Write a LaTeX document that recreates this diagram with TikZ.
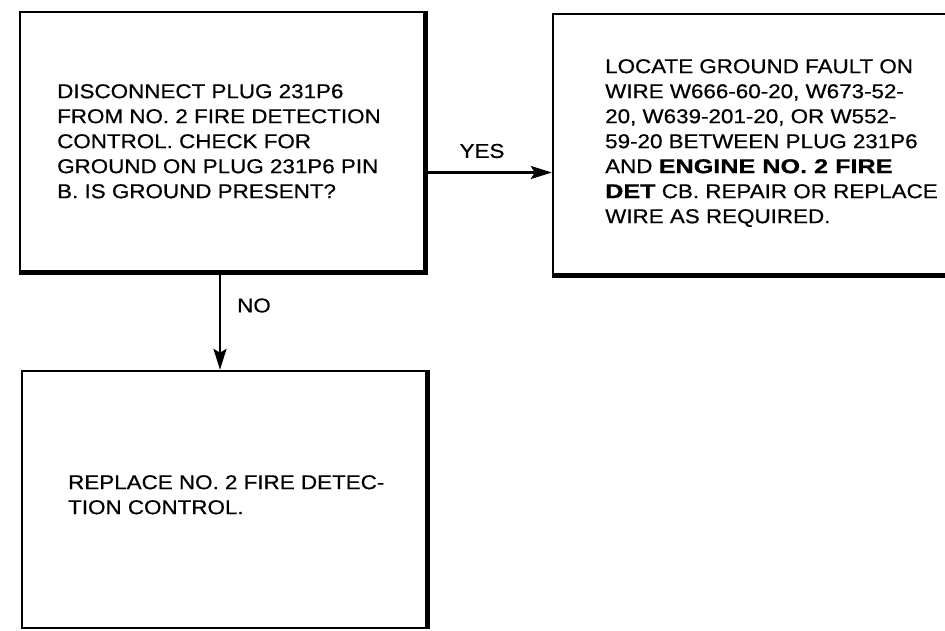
\documentclass[tikz,border=0pt]{standalone}
\usepackage{fontspec}
\setmainfont{Liberation Sans}[FakeStretch=1.12,FakeBold=0.6]
\newfontfamily\heavyfont{Liberation Sans Bold}[FakeStretch=1.26,FakeBold=0.8]
\usetikzlibrary{arrows.meta}
\begin{document}
\begin{tikzpicture}[x=1pt,y=-1pt,
  box/.style={draw, line width=2.4pt, inner sep=0pt},
  heavyedge/.style={line width=5.5pt, line cap=butt, line join=miter},
  txt/.style={anchor=north west, inner sep=0pt, align=left, font=\fontsize{20}{25}\selectfont},
  lbl/.style={inner sep=0pt, font=\fontsize{20}{25}\selectfont},
  arr/.style={line width=2.6pt, -{Stealth[length=21pt,width=13pt,inset=4pt]}}
]
\useasboundingbox (0,0) rectangle (945,631);
\clip (0,0) rectangle (945,631);
% boxes
\node[box, minimum width=406pt, minimum height=261pt] (b1) at (223,142.5) {};
\node[box, minimum width=407pt, minimum height=262pt] (b2) at (756.5,145) {};
\node[box, minimum width=406pt, minimum height=257pt] (b3) at (225,499.5) {};
% heavy right/bottom edges
\draw[heavyedge] ([xshift=-1.5pt]b1.north east) -- ([xshift=-1.5pt,yshift=1.5pt]b1.south east) -- ([yshift=1.5pt]b1.south west);
\draw[heavyedge] ([yshift=1.5pt]b2.south west) -- ([yshift=1.5pt]b2.south east);
\draw[heavyedge] ([xshift=-1.5pt]b3.north east) -- ([xshift=-1.5pt]b3.south east);
% texts
\node[txt] (t1) at (57,84) {DISCONNECT PLUG 231P6\\FROM NO. 2 FIRE DETECTION\\CONTROL. CHECK FOR\\GROUND ON PLUG 231P6 PIN\\B. IS GROUND PRESENT?};
\node[txt] (t2) at (605,59) {LOCATE GROUND FAULT ON\\WIRE W666-60-20, W673-52-\\20, W639-201-20, OR W552-\\59-20 BETWEEN PLUG 231P6\\AND {\heavyfont ENGINE NO. 2 FIRE}\\{\heavyfont DET} CB. REPAIR OR REPLACE\\WIRE AS REQUIRED.};
\node[txt] (t3) at (68,475) {REPLACE NO. 2 FIRE DETEC-\\TION CONTROL.};
% connectors
\draw[arr] ([yshift=-30pt]b1.east) -- ([yshift=-27.5pt]b2.west);
\draw[arr] ([xshift=-3pt]b1.south) -- ([xshift=-5pt]b3.north);
\node[lbl] (yes) at (482,151) {YES};
\node[lbl] (no) at (254,305.5) {NO};
\end{tikzpicture}
\end{document}
